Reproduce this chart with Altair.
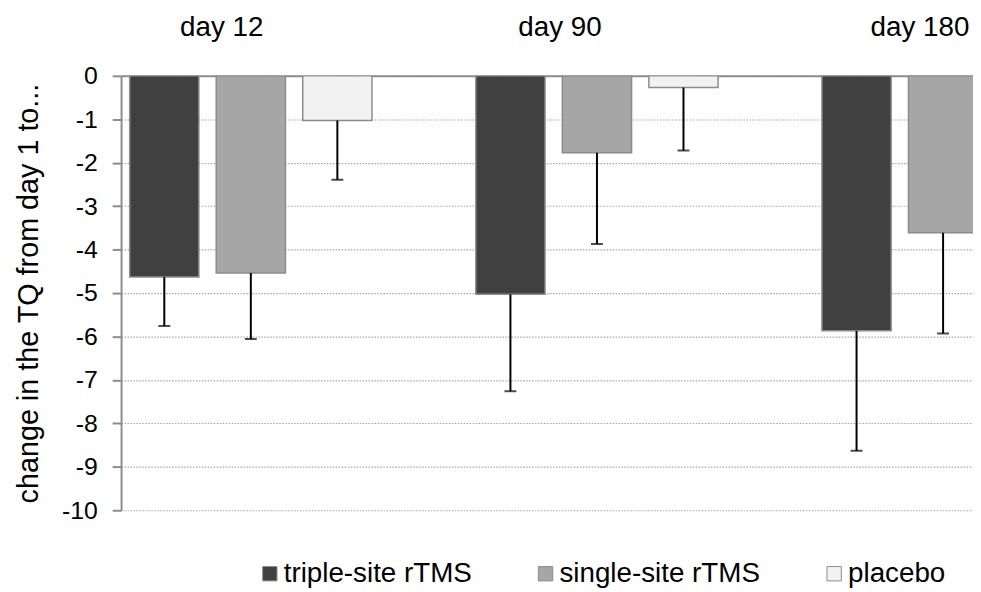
import altair as alt
import pandas as pd

# ---- data ----
days = ["day 12", "day 90", "day 180"]
series = ["triple-site rTMS", "single-site rTMS", "placebo"]
triple_mean = [-4.63, -5.03, -5.87]
triple_low = [-5.76, -7.26, -8.63]
single_mean = [-4.54, -1.77, -3.61]
single_low = [-6.06, -3.87, -5.93]
placebo_mean = [-1.03, -0.27]          # day 180 placebo is outside the visible area
placebo_low = [-2.39, -1.72]
colors = ["#404040", "#a6a6a6", "#f2f2f2"]

rows = []
for name, means, lows in [
    (series[0], triple_mean, triple_low),
    (series[1], single_mean, single_low),
    (series[2], placebo_mean, placebo_low),
]:
    for d, m, lo in zip(days, means, lows):
        rows.append({"day": d, "group": name, "mean": m, "low": lo})
df = pd.DataFrame(rows)

FONT = "Liberation Sans"

x_enc = alt.X(
    "day:N",
    sort=days,
    scale=alt.Scale(domain=days, range=[0, 1047], paddingInner=0, paddingOuter=0),
    axis=alt.Axis(
        orient="top",
        title=None,
        ticks=False,
        tickSize=0,
        labelAngle=0,
        labelFontSize=28,
        labelFont=FONT,
        labelColor="#000000",
        labelPadding=35,
        labelOffset={
            "condition": [
                {"test": "datum.value == 'day 90'", "value": -81},
                {"test": "datum.value == 'day 180'", "value": -67},
            ],
            "value": -73,
        },
        domainColor="#8c8c8c",
        domainWidth=2,
        grid=False,
    ),
)
xoff_enc = alt.XOffset(
    "group:N",
    sort=series,
    scale=alt.Scale(domain=series, paddingInner=0.2, paddingOuter=0.6, align=0.083),
)
y_scale = alt.Scale(domain=[-10, 0], nice=False, zero=True)

base = alt.Chart(df)

bars = base.mark_bar(stroke="#8c8c8c", strokeWidth=1.5, clip=True).encode(
    x=x_enc,
    xOffset=xoff_enc,
    y=alt.Y(
        "mean:Q",
        scale=y_scale,
        axis=alt.Axis(
            title="change in the TQ from day 1 to...",
            titleFontSize=29,
            titleFont=FONT,
            titleFontWeight="normal",
            titleColor="#000000",
            titlePadding=18,
            values=list(range(-10, 1)),
            labelExpr="'' + datum.value",
            labelFontSize=25,
            labelFont=FONT,
            labelColor="#000000",
            labelPadding=15,
            tickSize=9,
            tickColor="#8c8c8c",
            tickWidth=2,
            domainColor="#8c8c8c",
            domainWidth=2,
            grid=True,
            gridColor="#a6a6a6",
            gridDash=[1.5, 1.5],
            gridWidth=1.2,
        ),
    ),
    color=alt.Color(
        "group:N",
        sort=series,
        scale=alt.Scale(domain=series, range=colors),
        legend=alt.Legend(
            title=None,
            orient="none",
            direction="horizontal",
            legendX=136,
            legendY=488,
            symbolType="square",
            symbolSize=210,
            symbolStrokeColor="#8c8c8c",
            symbolStrokeWidth=1,
            symbolOpacity=1,
            labelFontSize=28,
            labelFont=FONT,
            labelColor="#000000",
            labelOffset=0,
            columnPadding=60,
            labelLimit=400,
        ),
    ),
)

err = base.mark_rule(color="#000000", strokeWidth=2, clip=True).encode(
    x=x_enc,
    xOffset=xoff_enc,
    y=alt.Y("mean:Q", scale=y_scale),
    y2="low:Q",
)

caps = base.mark_tick(color="#000000", size=12, thickness=2, clip=True).encode(
    x=x_enc,
    xOffset=xoff_enc,
    y=alt.Y("low:Q", scale=y_scale),
)

chart = (
    alt.layer(bars, err, caps)
    .properties(
        width=859,
        height=438,
        autosize=alt.AutoSizeParams(type="none"),
        padding={"left": 114, "top": 66, "right": 0, "bottom": 80},
        background="#ffffff",
    )
    .configure_view(strokeWidth=0)
)

chart.save("out.html", embed_options={"renderer": "svg", "actions": False})
